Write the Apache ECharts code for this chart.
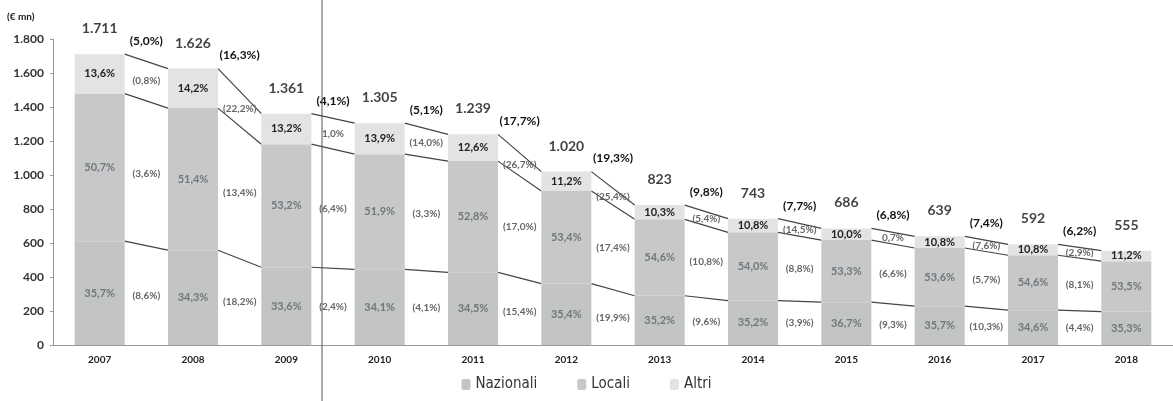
<!DOCTYPE html>
<html>
<head>
<meta charset="utf-8">
<script src="https://cdn.jsdelivr.net/npm/echarts@6/dist/echarts.min.js"></script>
<style>
html, body { margin: 0; padding: 0; background: #fff; }
#chart { width: 1173px; height: 401px; }
</style>
</head>
<body>
<div id="chart"></div>
<script>
const years = ['2007', '2008', '2009', '2010', '2011', '2012', '2013', '2014', '2015', '2016', '2017', '2018']
const totals = [1711, 1626, 1361, 1305, 1239, 1020, 823, 743, 686, 639, 592, 555]
const pctNaz = [35.7, 34.3, 33.6, 34.1, 34.5, 35.4, 35.2, 35.2, 36.7, 35.7, 34.6, 35.3]
const pctLoc = [50.7, 51.4, 53.2, 51.9, 52.8, 53.4, 54.6, 54.0, 53.3, 53.6, 54.6, 53.5]
const pctAlt = [13.6, 14.2, 13.2, 13.9, 12.6, 11.2, 10.3, 10.8, 10.0, 10.8, 10.8, 11.2]
const chgTot = ['(5,0%)', '(16,3%)', '(4,1%)', '(5,1%)', '(17,7%)', '(19,3%)', '(9,8%)', '(7,7%)', '(6,8%)', '(7,4%)', '(6,2%)']
const chgAlt = ['(0,8%)', '(22,2%)', '1,0%', '(14,0%)', '(26,7%)', '(25,4%)', '(5,4%)', '(14,5%)', '0,7%', '(7,6%)', '(2,9%)']
const chgLoc = ['(3,6%)', '(13,4%)', '(6,4%)', '(3,3%)', '(17,0%)', '(17,4%)', '(10,8%)', '(8,8%)', '(6,6%)', '(5,7%)', '(8,1%)']
const chgNaz = ['(8,6%)', '(18,2%)', '(2,4%)', '(4,1%)', '(15,4%)', '(19,9%)', '(9,6%)', '(3,9%)', '(9,3%)', '(10,3%)', '(4,4%)']

// segment values from total and share
const nazV = totals.map((t, i) => t * pctNaz[i] / 100)
const locV = totals.map((t, i) => t * pctLoc[i] / 100)
const altV = totals.map((t, i) => t - nazV[i] - locV[i])

const FONT = 'Lato, "Open Sans", sans-serif'
const NARROW = '"Liberation Sans Narrow", "DejaVu Sans Condensed", Lato, sans-serif'
const barW = 50

const fmtPct = (p) => p.toFixed(1).replace('.', ',') + '%'
const fmtNum = (v) => v >= 1000 ? Math.floor(v / 1000) + '.' + String(v % 1000).padStart(3, '0') : String(v)

const chart = echarts.init(document.getElementById('chart'))

function gapItem(params, api) {
	const i = params.dataIndex
	const half = barW / 2
	const lv = [nazV[i], nazV[i] + locV[i], totals[i]]
	const rv = [nazV[i + 1], nazV[i + 1] + locV[i + 1], totals[i + 1]]
	const children = []
	lv.forEach((v, k) => {
		const a = api.coord([i, v])
		const b = api.coord([i + 1, rv[k]])
		children.push({
			type: 'line',
			shape: { x1: a[0] + half, y1: a[1], x2: b[0] - half, y2: b[1] },
			style: { stroke: '#444', lineWidth: 1.2 },
		})
	})
	const cx = (api.coord([i, 0])[0] + api.coord([i + 1, 0])[0]) / 2
	const midY = (l0, l1, r0, r1) =>
		(api.coord([i, (l0 + l1) / 2])[1] + api.coord([i + 1, (r0 + r1) / 2])[1]) / 2
	const txt = (text, y, fill, size) => ({
		type: 'text',
		style: {
			text: text, x: cx, y: y, align: 'center', verticalAlign: 'middle',
			fill: fill, font: 'bold ' + size + 'px ' + FONT,
		},
	})
	children.push(txt(chgTot[i], api.coord([i, totals[i]])[1] - 13, '#111', 12))
	children.push(txt(chgAlt[i], midY(lv[1], lv[2], rv[1], rv[2]), '#666', 10))
	children.push(txt(chgLoc[i], midY(lv[0], lv[1], rv[0], rv[1]), '#666', 10))
	children.push(txt(chgNaz[i], midY(0, lv[0], 0, rv[0]), '#666', 10))
	return { type: 'group', children: children }
}

const barLabel = (pcts, color, size) => ({
	show: true,
	position: 'inside',
	formatter: (p) => fmtPct(pcts[p.dataIndex]),
	color: color,
	fontFamily: FONT,
	fontWeight: 'bold',
	fontSize: size,
})

const option = {
	animation: false,
	grid: { left: 53, right: 0, top: 39, bottom: 56 },
	legend: {
		data: ['Nazionali', 'Locali', 'Altri'],
		bottom: 4,
		left: 'center',
		itemWidth: 9,
		itemHeight: 11,
		itemGap: 40,
		textStyle: { fontFamily: NARROW, fontSize: 15, color: '#333' },
	},
	xAxis: {
		type: 'category',
		data: years,
		axisLine: { lineStyle: { color: '#999' } },
		axisTick: { length: 3, lineStyle: { color: '#999' } },
		axisLabel: { color: '#222', fontFamily: FONT, fontWeight: 'bold', fontSize: 10, margin: 10 },
	},
	yAxis: {
		type: 'value',
		min: 0,
		max: 1800,
		interval: 200,
		axisLine: { show: true, lineStyle: { color: '#999' } },
		axisTick: { show: true, length: 3, lineStyle: { color: '#999' } },
		splitLine: { show: false },
		axisLabel: { color: '#333', fontFamily: FONT, fontWeight: 'bold', fontSize: 12, margin: 9, formatter: fmtNum },
	},
	graphic: [
		{ type: 'text', left: 7, top: 12, style: { text: '(€ mn)', font: 'bold 10px ' + FONT, fill: '#222' } },
		{ type: 'line', shape: { x1: 322, y1: 0, x2: 322, y2: 401 }, style: { stroke: '#555', lineWidth: 1 }, z: 100 },
	],
	series: [
		{
			name: 'Nazionali', type: 'bar', stack: 'tot', barWidth: barW,
			itemStyle: { color: '#c2c4c5' },
			label: barLabel(pctNaz, '#6e7a77', 11),
			data: nazV,
		},
		{
			name: 'Locali', type: 'bar', stack: 'tot', barWidth: barW,
			itemStyle: { color: '#c8c8cb' },
			label: barLabel(pctLoc, '#6e7a77', 11),
			data: locV,
		},
		{
			name: 'Altri', type: 'bar', stack: 'tot', barWidth: barW,
			itemStyle: { color: '#e3e3e3' },
			label: barLabel(pctAlt, '#222', 11),
			data: altV,
		},
		{
			name: 'totale', type: 'scatter', symbolSize: 1,
			itemStyle: { color: 'rgba(0,0,0,0)' },
			label: {
				show: true, position: 'top', distance: 18,
				formatter: (p) => fmtNum(totals[p.dataIndex]),
				color: '#111', fontFamily: FONT, fontWeight: 'bold', fontSize: 14,
			},
			data: totals,
		},
		{
			name: 'variazioni', type: 'custom', clip: false,
			renderItem: gapItem,
			encode: { x: 0, y: 1 },
			data: chgTot.map((t, i) => [i, totals[i]]),
		},
	],
}

chart.setOption(option)
</script>
</body>
</html>
